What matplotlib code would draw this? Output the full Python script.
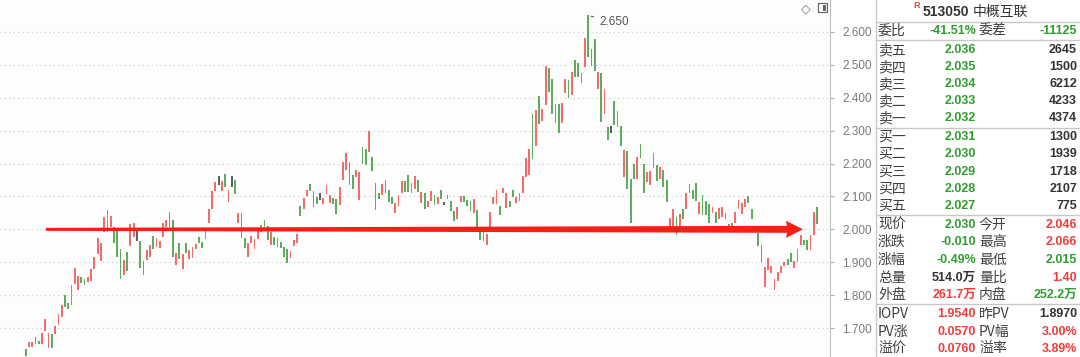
import numpy as np
import matplotlib.pyplot as plt
from matplotlib.patches import Polygon, Rectangle

# candle bodies (open, close); gray = flat-coloured bars
opens = [
    1.636, 1.642, 1.641, 1.672, 1.662, 1.652, 1.691, 1.638, 1.682, 1.683,
    1.709, 1.734, 1.799, 1.775, 1.770, 1.834, 1.815, 1.854, 1.850, 1.839,
    1.842, 1.880, 1.926, 1.903, 1.993, 1.992, 2.008, 2.006, 1.995, 1.940,
    1.860, 1.931, 1.949, 1.978, 2.000, 1.964, 1.904, 1.907, 1.917, 1.981,
    1.947, 1.942, 1.978, 2.006, 2.054, 2.028, 1.892, 1.959, 1.878, 1.959,
    1.909, 1.912, 1.939, 1.978, 1.962, 1.972, 2.020, 2.063, 2.115, 2.162,
    2.117, 2.167, 2.082, 2.162, 2.150, 2.018, 2.049, 1.975, 1.917, 1.957,
    1.939, 1.970, 1.992, 2.028, 2.010, 1.952, 1.978, 1.974, 1.962, 1.947,
    1.939, 1.912, 1.949, 1.957, 2.071, 2.063, 2.101, 2.137, 2.115, 2.097,
    2.109, 2.077, 2.107, 2.079, 2.095, 2.093, 2.073, 2.150, 2.180, 2.205,
    2.164, 2.160, 2.089, 2.251, 2.243, 2.234, 2.221, 2.140, 2.109, 2.105,
    2.150, 2.119, 2.097, 2.051, 2.071, 2.111, 2.148, 2.166, 2.111, 2.124,
    2.150, 2.081, 2.109, 2.069, 2.087, 2.103, 2.077, 2.119, 2.083, 2.103,
    2.087, 2.055, 2.030, 2.083, 2.101, 2.089, 2.087, 2.049, 2.060, 1.994,
    1.995, 1.952, 1.998, 2.077, 2.077, 2.071, 2.109, 2.065, 2.087, 2.121,
    2.079, 2.087, 2.111, 2.158, 2.165, 2.352, 2.253, 2.405, 2.330, 2.378,
    2.489, 2.458, 2.381, 2.381, 2.322, 2.413, 2.454, 2.409, 2.515, 2.507,
    2.476, 2.492, 2.650, 2.547, 2.578, 2.427, 2.474, 2.352, 2.310, 2.314,
    2.391, 2.312, 2.314, 2.160, 2.239, 2.154, 2.199, 2.154, 2.260, 2.199,
    2.143, 2.136, 2.186, 2.197, 2.153, 2.179, 2.151, 1.998, 1.998, 2.038,
    2.008, 2.061, 2.061, 2.138, 2.121, 2.140, 2.046, 2.103, 2.087, 2.077,
    2.051, 2.053, 2.030, 2.038, 2.049, 2.016, 2.020, 2.018, 2.063, 2.047,
    2.069, 2.101, 2.063, 2.010, 1.990, 1.951, 1.824, 1.876, 1.868, 1.816,
    1.842, 1.868, 1.890, 1.909, 1.929, 1.884, 1.901, 1.951, 1.969, 1.969,
    1.937, 1.984, 2.067,
]
closes = [
    1.616, 1.657, 1.657, 1.650, 1.651, 1.686, 1.727, 1.684, 1.638, 1.706,
    1.742, 1.771, 1.763, 1.759, 1.830, 1.882, 1.859, 1.838, 1.832, 1.854,
    1.879, 1.916, 1.973, 1.957, 2.037, 2.059, 2.040, 1.957, 1.917, 1.850,
    1.906, 1.873, 2.016, 2.018, 1.965, 1.882, 1.861, 1.937, 1.952, 1.939,
    1.974, 1.965, 2.018, 2.028, 2.006, 1.915, 1.927, 1.911, 1.925, 1.927,
    1.937, 1.947, 1.955, 1.957, 1.942, 1.998, 2.063, 2.115, 2.144, 2.134,
    2.146, 2.130, 2.119, 2.128, 2.107, 2.049, 1.975, 1.942, 1.959, 1.980,
    1.970, 2.000, 2.014, 2.006, 1.968, 1.992, 1.953, 1.947, 1.942, 1.917,
    1.898, 1.935, 1.967, 1.986, 2.042, 2.095, 2.119, 2.117, 2.069, 2.077,
    2.089, 2.095, 2.134, 2.103, 2.077, 2.046, 2.128, 2.206, 2.233, 2.136,
    2.124, 2.180, 2.174, 2.200, 2.195, 2.298, 2.178, 2.059, 2.091, 2.138,
    2.111, 2.083, 2.077, 2.079, 2.103, 2.146, 2.113, 2.113, 2.142, 2.162,
    2.113, 2.113, 2.063, 2.085, 2.115, 2.075, 2.097, 2.093, 2.073, 2.091,
    2.055, 2.024, 2.067, 2.101, 2.083, 2.071, 2.057, 2.093, 2.000, 1.968,
    1.966, 1.985, 2.053, 2.097, 2.121, 2.043, 2.127, 2.111, 2.069, 2.097,
    2.097, 2.111, 2.162, 2.217, 2.245, 2.215, 2.363, 2.320, 2.367, 2.497,
    2.418, 2.350, 2.322, 2.294, 2.385, 2.458, 2.399, 2.478, 2.464, 2.464,
    2.446, 2.581, 2.525, 2.496, 2.482, 2.478, 2.327, 2.425, 2.272, 2.292,
    2.316, 2.361, 2.253, 2.241, 2.124, 2.018, 2.154, 2.221, 2.217, 2.111,
    2.173, 2.177, 2.232, 2.147, 2.189, 2.128, 2.082, 2.034, 2.061, 1.983,
    2.048, 2.030, 2.111, 2.111, 2.091, 2.085, 2.083, 2.044, 2.044, 2.018,
    2.069, 2.018, 2.065, 2.067, 2.032, 2.002, 1.998, 2.053, 2.089, 2.081,
    2.093, 2.079, 2.030, 1.992, 1.949, 1.901, 1.886, 1.913, 1.888, 1.848,
    1.870, 1.888, 1.900, 1.892, 1.901, 1.905, 1.941, 1.982, 1.953, 1.937,
    1.982, 2.053, 2.016,
]
gray_bars = [34, 59, 63, 90, 128, 179]

y_ticks = [1.7, 1.8, 1.9, 2.0, 2.1, 2.2, 2.3, 2.4, 2.5, 2.6]
arrow_level = 2.0

# order book panel
title_code = "513050"
title_name = "中概互联"
ratio_row = ["委比", "-41.51%", "委差", "-11125"]
ask_labels = ["卖五", "卖四", "卖三", "卖二", "卖一"]
ask_prices = ["2.036", "2.035", "2.034", "2.033", "2.032"]
ask_vols = ["2645", "1500", "6212", "4233", "4374"]
bid_labels = ["买一", "买二", "买三", "买四", "买五"]
bid_prices = ["2.031", "2.030", "2.029", "2.028", "2.027"]
bid_vols = ["1300", "1939", "1718", "2107", "775"]
quote_rows = [
    ("现价", "2.030", "g", "今开", "2.046", "r"),
    ("涨跌", "-0.010", "g", "最高", "2.066", "r"),
    ("涨幅", "-0.49%", "g", "最低", "2.015", "g"),
    ("总量", "514.0万", "k", "量比", "1.40", "r"),
    ("外盘", "261.7万", "r", "内盘", "252.2万", "g"),
]
pv_rows = [
    ("IOPV", "1.9540", "r", "昨PV", "1.8970", "k"),
    ("PV涨", "0.0570", "r", "PV幅", "3.00%", "r"),
    ("溢价", "0.0760", "r", "溢率", "3.89%", "r"),
]

RED = "#f23c3c"
GREEN = "#2f9e2f"
DARK = "#333333"
LABEL = "#404040"
COLS = {"r": RED, "g": GREEN, "k": DARK}
CJK = ["Noto Sans CJK SC", "DejaVu Sans"]
NUM = ["Liberation Sans", "Noto Sans CJK SC"]

W, H = 1080, 357
fig = plt.figure(figsize=(W / 100, H / 100), dpi=100)
fig.patch.set_facecolor("white")

# ---- candle chart ----
ax = fig.add_axes([0, 0, 830 / W, 1])
ax.set_facecolor("#fdfdfd")
o = np.array(opens)
c = np.array(closes)
x = np.arange(len(o))
cols = np.where(c >= o, "#f36c6c", "#5fac5f").astype(object)
for i in gray_bars:
    cols[i] = "#606060"
lo = np.minimum(o, c)
hi = np.maximum(o, c)
ax.bar(x, hi - lo, bottom=lo, width=0.55, color=list(cols), linewidth=0, zorder=3)

px = 3.27  # pixels per bar
ax.set_xlim(-25.7 / px, (830 - 25.7) / px)
ax.set_ylim(1.612, 2.697)
for t in y_ticks:
    ax.axhline(t, color="#c8c8c8", lw=0.8, ls=(0, (1, 3)), zorder=1)
ax.set_yticks(y_ticks)
ax.set_yticklabels([f"{t:.3f}" for t in y_ticks], family="Liberation Sans")
ax.yaxis.tick_right()
ax.tick_params(axis="y", colors="#aaaaaa", labelcolor="#7a7a7a", labelsize=8.5,
               length=3, pad=6)
ax.set_xticks([])
for s in ["top", "left", "bottom"]:
    ax.spines[s].set_visible(False)
ax.spines["right"].set_color("#c0c0c0")

# high marker
top_i = int(np.argmax(hi))
ax.annotate(f"{hi[top_i]:.3f}", xy=(top_i, hi[top_i]), xytext=(8, -7),
            textcoords="offset points", fontsize=8.5, color="#555555",
            family="Liberation Sans",
            arrowprops=dict(arrowstyle="-", color="#555555", lw=0.7))

# big red arrow
ux = 1 / px            # one pixel in bar units
uy = (2.697 - 1.612) / H
x0, x1 = 6.2, 237.7
hl = 16 * ux
shaft = [(x0, arrow_level - 1.5 * uy), (x1 - hl, arrow_level - 3.5 * uy),
         (x1 - hl - 1 * ux, arrow_level - 8.5 * uy), (x1, arrow_level),
         (x1 - hl - 1 * ux, arrow_level + 8.5 * uy), (x1 - hl, arrow_level + 3.5 * uy),
         (x0, arrow_level + 1.5 * uy)]
ax.add_patch(Polygon(shaft, closed=True, facecolor="#fa1e14", edgecolor="none", zorder=5))

# ---- overlay in pixel units for the panel ----
ov = fig.add_axes([0, 0, 1, 1])
ov.set_xlim(0, W)
ov.set_ylim(H, 0)
ov.axis("off")
ov.patch.set_alpha(0)
ov.add_patch(Rectangle((876, 0), W - 876, H, facecolor="white", edgecolor="none"))
ov.plot([876, 876], [0, H], color="#c8c8c8", lw=1)
for yy in [21.5, 39.5, 128, 215, 304]:
    ov.plot([876, W], [yy, yy], color="#c8c8c8", lw=1)

# chart icons
ov.text(806, 9, "◇", fontsize=9, color="#777777", ha="center", va="center",
        family="DejaVu Sans")
ov.add_patch(Rectangle((818, 3), 9, 9, facecolor="white", edgecolor="#666666", lw=0.9))
ov.add_patch(Rectangle((823, 5), 3, 5.5, facecolor="#666666", edgecolor="none"))

ov.text(913, 6, "R", fontsize=6.5, color=RED, weight="bold", ha="left", va="center",
        family="Liberation Sans")
ov.text(923, 12, title_code, fontsize=10, color=DARK, weight="bold", ha="left", va="center",
        family=NUM)
ov.text(973, 12, title_name, fontsize=10, color=DARK, ha="left", va="center", family=CJK)


def row(y, lab1, v1, c1, lab2=None, v2=None, c2=None):
    ov.text(878, y, lab1, fontsize=10, color=LABEL, ha="left", va="center", family=CJK)
    ov.text(976, y, v1, fontsize=9, color=c1, weight="bold", ha="right", va="center",
            family=NUM)
    if lab2:
        ov.text(979, y, lab2, fontsize=10, color=LABEL, ha="left", va="center", family=CJK)
    if v2:
        ov.text(1077, y, v2, fontsize=9, color=c2, weight="bold", ha="right",
                va="center", family=NUM)


row(31, ratio_row[0], ratio_row[1], GREEN, ratio_row[2], ratio_row[3], GREEN)
for k, yy in enumerate([50, 67, 84, 101, 118]):
    row(yy, ask_labels[k], ask_prices[k], GREEN, None, ask_vols[k], DARK)
for k, yy in enumerate([137, 154, 172, 189, 206]):
    row(yy, bid_labels[k], bid_prices[k], GREEN, None, bid_vols[k], DARK)
for r, yy in zip(quote_rows, [225, 242, 260, 278, 295]):
    row(yy, r[0], r[1], COLS[r[2]], r[3], r[4], COLS[r[5]])
for r, yy in zip(pv_rows, [314, 332, 349]):
    row(yy, r[0], r[1], COLS[r[2]], r[3], r[4], COLS[r[5]])

fig.savefig("out.png", dpi=100)
